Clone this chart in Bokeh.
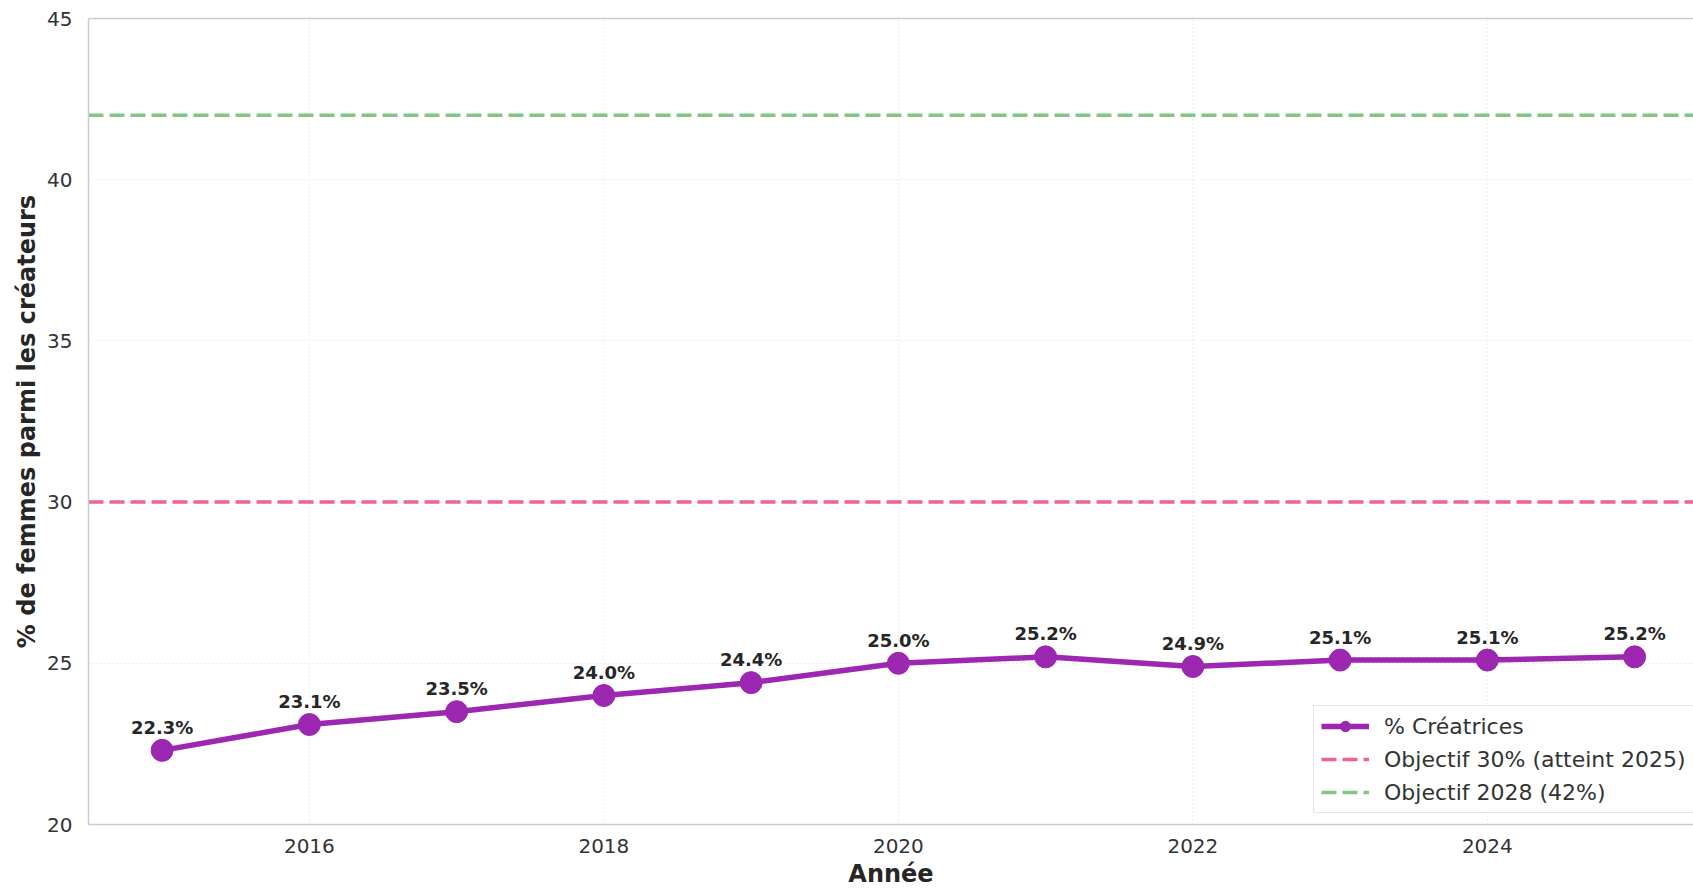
from bokeh.plotting import figure
from bokeh.models import (Legend, LegendItem, LinearAxis, FixedTicker, ColumnDataSource, Range1d)
from bokeh.embed import file_html
from bokeh.resources import INLINE
from bokeh.core.properties import value

years = [2015, 2016, 2017, 2018, 2019, 2020, 2021, 2022, 2023, 2024, 2025]
pct_creatrices = [22.3, 23.1, 23.5, 24.0, 24.4, 25.0, 25.2, 24.9, 25.1, 25.1, 25.2]
objectif_2025 = 30
objectif_2028 = 42
x_ticks = [2016, 2018, 2020, 2022, 2024]
y_ticks = [20, 25, 30, 35, 40, 45]

FONT = "DejaVu Sans"
PURPLE = "#9c27b0"
PINK = "#f06292"
GREEN = "#81c784"
TXT = "#333333"

X0, X1 = 2014.5, 2025.4

p = figure(width=1693, height=890, output_backend="svg", toolbar_location=None,
           x_range=Range1d(X0, X1), y_range=Range1d(20, 45),
           min_border_left=88, min_border_right=0, min_border_top=18, min_border_bottom=0)
p.outline_line_color = None
p.background_fill_color = "white"
p.border_fill_color = "white"

# axes
for ax in (p.xaxis[0], p.yaxis[0]):
    ax.axis_line_color = "#cccccc"
    ax.axis_line_width = 1.5
    ax.major_tick_line_color = None
    ax.minor_tick_line_color = None
    ax.major_tick_out = 0
    ax.major_tick_in = 0
    ax.minor_tick_out = 0
    ax.minor_tick_in = 0
    ax.major_label_text_font = FONT
    ax.major_label_text_font_size = "20px"
    ax.major_label_text_color = TXT
    ax.axis_label_text_font = FONT
    ax.axis_label_text_font_style = "bold"
    ax.axis_label_text_color = "#262626"
    ax.axis_label_text_font_size = "24px"
p.xaxis.ticker = FixedTicker(ticks=x_ticks)
p.yaxis.ticker = FixedTicker(ticks=y_ticks)
p.xaxis.axis_label = "Année"
p.yaxis.axis_label = "% de femmes parmi les créateurs"
p.xaxis.major_label_standoff = 14
p.xaxis.axis_label_standoff = 4
p.yaxis.major_label_standoff = 16
p.yaxis.axis_label_standoff = 3

top_axis = LinearAxis(axis_line_color="#cccccc", axis_line_width=1.5,
                      major_tick_line_color=None, minor_tick_line_color=None,
                      major_tick_out=0, major_tick_in=0, minor_tick_out=0, minor_tick_in=0,
                      major_label_text_font_size="0px", major_label_standoff=0,
                      ticker=FixedTicker(ticks=[]))
p.add_layout(top_axis, "above")

# grid
p.xgrid.ticker = FixedTicker(ticks=x_ticks)
p.ygrid.ticker = FixedTicker(ticks=y_ticks)
for g in (p.xgrid[0], p.ygrid[0]):
    g.grid_line_color = "#dddddd"
    g.grid_line_dash = "1 3"
    g.grid_line_width = 1

# target lines
pink_line = p.line([X0, X1], [objectif_2025, objectif_2025], line_color=PINK,
                   line_width=3.5, line_dash="15 6")
green_line = p.line([X0, X1], [objectif_2028, objectif_2028], line_color=GREEN,
                    line_width=3.5, line_dash="15 6")

src = ColumnDataSource(dict(x=years, y=pct_creatrices,
                            lbl=[f"{v:.1f}%" for v in pct_creatrices]))
main_line = p.line("x", "y", source=src, line_color=PURPLE, line_width=5.5)
main_pts = p.scatter("x", "y", source=src, size=22, fill_color=PURPLE, line_color=PURPLE)

p.text("x", "y", text="lbl", source=src, text_font=value(FONT), text_font_style="bold",
       text_font_size="18px", text_color="#262626", text_align="center",
       text_baseline="alphabetic", y_offset=-23)

legend = Legend(items=[
    LegendItem(label="% Créatrices", renderers=[main_line, main_pts]),
    LegendItem(label="Objectif 30% (atteint 2025)", renderers=[pink_line]),
    LegendItem(label="Objectif 2028 (42%)", renderers=[green_line]),
], location=(1225, 11))
legend.label_text_font = FONT
legend.label_text_font_size = "22px"
legend.label_text_color = TXT
legend.glyph_width = 48
legend.glyph_height = 26
legend.label_height = 26
legend.spacing = 7
legend.padding = 7
legend.margin = 0
legend.label_standoff = 15
legend.border_line_color = "#cccccc"
legend.border_line_width = 1.5
legend.background_fill_color = "white"
legend.background_fill_alpha = 0.9
p.add_layout(legend)

open("out.html", "w").write(file_html(p, INLINE))
